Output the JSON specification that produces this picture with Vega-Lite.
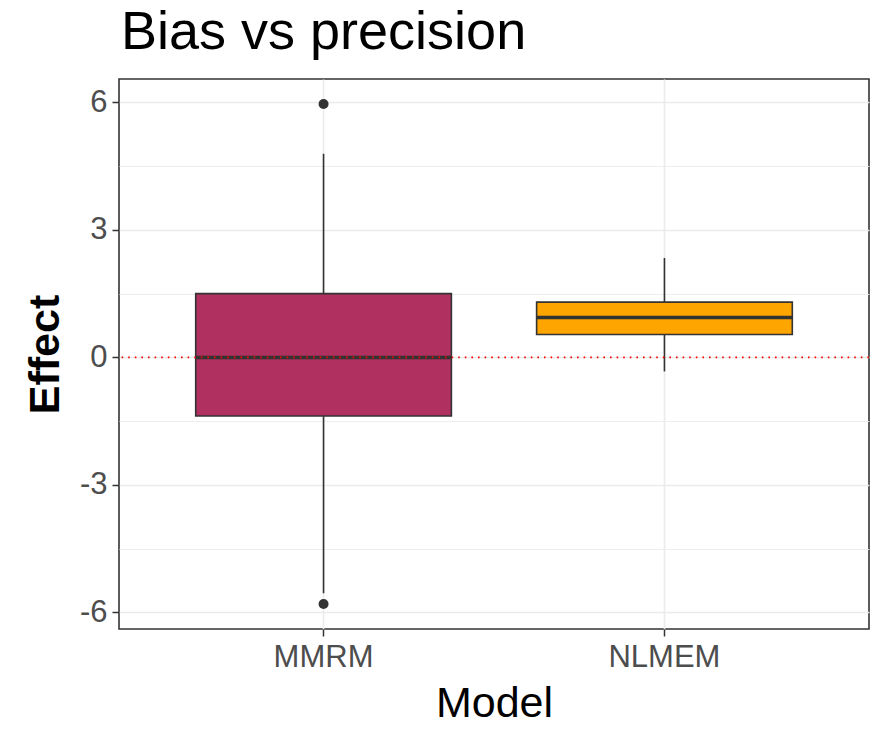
{
  "$schema": "https://vega.github.io/schema/vega-lite/v6.json",
  "autosize": "none",
  "width": 750,
  "height": 550,
  "padding": {"left": 119, "top": 79, "right": 10, "bottom": 102},
  "background": "white",
  "title": {
    "text": "Bias vs precision",
    "anchor": "start",
    "frame": "group",
    "font": "Liberation Sans",
    "fontSize": 54,
    "fontWeight": "normal",
    "color": "#000000",
    "offset": 19,
    "dx": 2
  },
  "datasets": {
    "boxes": [
      {"model": "MMRM", "lower": -5.55, "q1": -1.38, "median": 0.0, "q3": 1.50, "upper": 4.79},
      {"model": "NLMEM", "lower": -0.33, "q1": 0.54, "median": 0.94, "q3": 1.30, "upper": 2.34}
    ],
    "outliers": [
      {"model": "MMRM", "value": 5.96},
      {"model": "MMRM", "value": -5.80}
    ],
    "refline": [{"value": 0}]
  },
  "encoding": {
    "x": {
      "field": "model",
      "type": "nominal",
      "title": "Model",
      "scale": {"domain": ["MMRM", "NLMEM"], "paddingInner": 0.25, "paddingOuter": 0.225},
      "axis": {
        "labelAngle": 0,
        "grid": true,
        "bandPosition": 0.5,
        "gridColor": "#EBEBEB",
        "gridWidth": 1.6,
        "domain": false,
        "tickColor": "#333333",
        "tickWidth": 1.5,
        "tickSize": 7,
        "labelPadding": 6,
        "labelFont": "Liberation Sans",
        "labelFontSize": 31,
        "labelColor": "#4D4D4D",
        "titleFont": "Liberation Sans",
        "titleFontSize": 43,
        "titleFontWeight": "normal",
        "titleColor": "#000000",
        "titlePadding": 10
      }
    }
  },
  "layer": [
    {
      "data": {"name": "boxes"},
      "mark": {"type": "rule", "color": "#333333", "strokeWidth": 1.6},
      "encoding": {
        "y": {
          "field": "lower",
          "type": "quantitative",
          "title": "Effect",
          "scale": {"domain": [-6.39, 6.55], "nice": false, "zero": false},
          "axis": {
            "values": [-6, -4.5, -3, -1.5, 0, 1.5, 3, 4.5, 6],
            "labelExpr": "datum.value % 3 === 0 ? '' + datum.value : ''",
            "grid": true,
            "gridColor": "#EBEBEB",
            "gridWidth": {"condition": {"test": "datum.value % 3 === 0", "value": 1.6}, "value": 0.9},
            "domain": false,
            "tickColor": "#333333",
            "tickOpacity": {"condition": {"test": "datum.value % 3 === 0", "value": 1}, "value": 0},
            "tickWidth": 1.5,
            "tickSize": 7,
            "labelPadding": 5,
            "labelFont": "Liberation Sans",
            "labelFontSize": 31,
            "labelColor": "#4D4D4D",
            "titleFont": "Liberation Sans",
            "titleFontSize": 43,
            "titleFontWeight": "bold",
            "titleColor": "#000000",
            "titlePadding": 12
          }
        },
        "y2": {"field": "upper"}
      }
    },
    {
      "data": {"name": "boxes"},
      "mark": {"type": "bar", "stroke": "#333333", "strokeWidth": 1.6},
      "encoding": {
        "y": {"field": "q1", "type": "quantitative"},
        "y2": {"field": "q3"},
        "fill": {
          "field": "model",
          "type": "nominal",
          "scale": {"domain": ["MMRM", "NLMEM"], "range": ["#B03060", "#FFA500"]},
          "legend": null
        }
      }
    },
    {
      "data": {"name": "boxes"},
      "mark": {"type": "tick", "color": "#333333", "size": 256, "thickness": 3.5, "opacity": 1},
      "encoding": {
        "y": {"field": "median", "type": "quantitative"}
      }
    },
    {
      "data": {"name": "refline"},
      "mark": {"type": "rule", "color": "#FF0000", "strokeWidth": 1.6, "strokeDash": [1.6, 5]},
      "encoding": {
        "y": {"field": "value", "type": "quantitative"},
        "x": null
      }
    },
    {
      "data": {"name": "outliers"},
      "mark": {"type": "point", "filled": true, "color": "#333333", "size": 100, "opacity": 1},
      "encoding": {
        "y": {"field": "value", "type": "quantitative"}
      }
    }
  ],
  "config": {
    "view": {"stroke": "#333333", "strokeWidth": 1.6, "fill": "white"}
  }
}
